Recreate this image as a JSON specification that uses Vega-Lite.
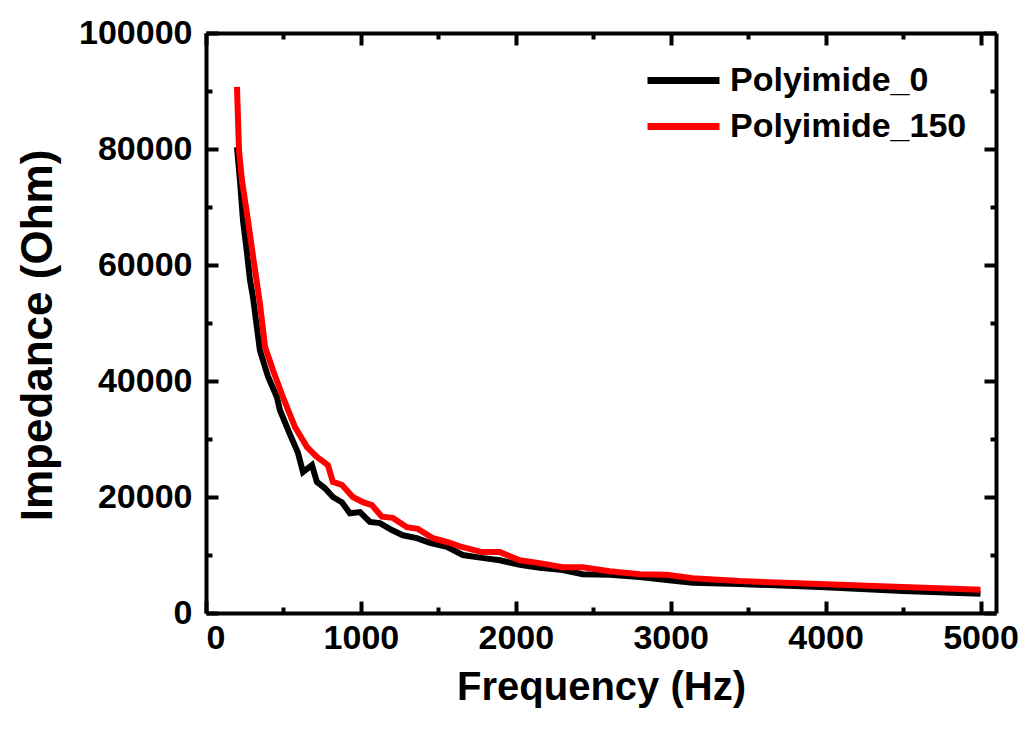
{
  "$schema": "https://vega.github.io/schema/vega-lite/v6.json",
  "width": 790,
  "height": 580,
  "autosize": "none",
  "padding": {"left": 206, "top": 33, "right": 26, "bottom": 116},
  "background": "white",
  "config": {
    "view": {"stroke": null},
    "font": "Liberation Sans",
    "axis": {
      "grid": false,
      "domainColor": "black",
      "domainWidth": 4,
      "tickColor": "black",
      "tickWidth": 4,
      "labelColor": "black",
      "titleColor": "black",
      "labelFont": "Liberation Sans",
      "labelFontWeight": "bold",
      "labelFontSize": 34,
      "titleFont": "Liberation Sans",
      "titleFontWeight": "bold",
      "titleFontSize": 40
    }
  },
  "data": {
    "values": [
      {"f": 200, "z": 80300, "s": "Polyimide_0"},
      {"f": 219, "z": 74600, "s": "Polyimide_0"},
      {"f": 239, "z": 67700, "s": "Polyimide_0"},
      {"f": 265, "z": 62000, "s": "Polyimide_0"},
      {"f": 284, "z": 57400, "s": "Polyimide_0"},
      {"f": 303, "z": 54500, "s": "Polyimide_0"},
      {"f": 348, "z": 45300, "s": "Polyimide_0"},
      {"f": 400, "z": 40800, "s": "Polyimide_0"},
      {"f": 458, "z": 37200, "s": "Polyimide_0"},
      {"f": 477, "z": 35000, "s": "Polyimide_0"},
      {"f": 542, "z": 30800, "s": "Polyimide_0"},
      {"f": 594, "z": 27600, "s": "Polyimide_0"},
      {"f": 626, "z": 24300, "s": "Polyimide_0"},
      {"f": 684, "z": 25500, "s": "Polyimide_0"},
      {"f": 716, "z": 22600, "s": "Polyimide_0"},
      {"f": 768, "z": 21500, "s": "Polyimide_0"},
      {"f": 819, "z": 20000, "s": "Polyimide_0"},
      {"f": 877, "z": 19100, "s": "Polyimide_0"},
      {"f": 929, "z": 17200, "s": "Polyimide_0"},
      {"f": 994, "z": 17400, "s": "Polyimide_0"},
      {"f": 1058, "z": 15700, "s": "Polyimide_0"},
      {"f": 1123, "z": 15500, "s": "Polyimide_0"},
      {"f": 1200, "z": 14300, "s": "Polyimide_0"},
      {"f": 1271, "z": 13400, "s": "Polyimide_0"},
      {"f": 1361, "z": 12900, "s": "Polyimide_0"},
      {"f": 1445, "z": 12100, "s": "Polyimide_0"},
      {"f": 1555, "z": 11400, "s": "Polyimide_0"},
      {"f": 1658, "z": 10000, "s": "Polyimide_0"},
      {"f": 1781, "z": 9500, "s": "Polyimide_0"},
      {"f": 1897, "z": 9100, "s": "Polyimide_0"},
      {"f": 2026, "z": 8300, "s": "Polyimide_0"},
      {"f": 2155, "z": 7800, "s": "Polyimide_0"},
      {"f": 2303, "z": 7400, "s": "Polyimide_0"},
      {"f": 2432, "z": 6700, "s": "Polyimide_0"},
      {"f": 2606, "z": 6600, "s": "Polyimide_0"},
      {"f": 2800, "z": 6200, "s": "Polyimide_0"},
      {"f": 2974, "z": 5700, "s": "Polyimide_0"},
      {"f": 3142, "z": 5200, "s": "Polyimide_0"},
      {"f": 3445, "z": 5000, "s": "Polyimide_0"},
      {"f": 3961, "z": 4500, "s": "Polyimide_0"},
      {"f": 4497, "z": 3800, "s": "Polyimide_0"},
      {"f": 5000, "z": 3300, "s": "Polyimide_0"},
      {"f": 200, "z": 90700, "s": "Polyimide_150"},
      {"f": 213, "z": 79800, "s": "Polyimide_150"},
      {"f": 232, "z": 74600, "s": "Polyimide_150"},
      {"f": 271, "z": 67700, "s": "Polyimide_150"},
      {"f": 310, "z": 60300, "s": "Polyimide_150"},
      {"f": 348, "z": 53400, "s": "Polyimide_150"},
      {"f": 381, "z": 45900, "s": "Polyimide_150"},
      {"f": 432, "z": 41900, "s": "Polyimide_150"},
      {"f": 497, "z": 37200, "s": "Polyimide_150"},
      {"f": 574, "z": 32100, "s": "Polyimide_150"},
      {"f": 652, "z": 28600, "s": "Polyimide_150"},
      {"f": 716, "z": 26900, "s": "Polyimide_150"},
      {"f": 768, "z": 25900, "s": "Polyimide_150"},
      {"f": 787, "z": 25500, "s": "Polyimide_150"},
      {"f": 819, "z": 22600, "s": "Polyimide_150"},
      {"f": 877, "z": 22100, "s": "Polyimide_150"},
      {"f": 948, "z": 20000, "s": "Polyimide_150"},
      {"f": 1013, "z": 19100, "s": "Polyimide_150"},
      {"f": 1071, "z": 18600, "s": "Polyimide_150"},
      {"f": 1135, "z": 16600, "s": "Polyimide_150"},
      {"f": 1206, "z": 16400, "s": "Polyimide_150"},
      {"f": 1297, "z": 14800, "s": "Polyimide_150"},
      {"f": 1368, "z": 14500, "s": "Polyimide_150"},
      {"f": 1465, "z": 12900, "s": "Polyimide_150"},
      {"f": 1561, "z": 12200, "s": "Polyimide_150"},
      {"f": 1639, "z": 11500, "s": "Polyimide_150"},
      {"f": 1781, "z": 10500, "s": "Polyimide_150"},
      {"f": 1897, "z": 10500, "s": "Polyimide_150"},
      {"f": 2026, "z": 9100, "s": "Polyimide_150"},
      {"f": 2155, "z": 8600, "s": "Polyimide_150"},
      {"f": 2303, "z": 7900, "s": "Polyimide_150"},
      {"f": 2432, "z": 7900, "s": "Polyimide_150"},
      {"f": 2606, "z": 7200, "s": "Polyimide_150"},
      {"f": 2800, "z": 6700, "s": "Polyimide_150"},
      {"f": 2974, "z": 6600, "s": "Polyimide_150"},
      {"f": 3142, "z": 6000, "s": "Polyimide_150"},
      {"f": 3445, "z": 5500, "s": "Polyimide_150"},
      {"f": 3961, "z": 5000, "s": "Polyimide_150"},
      {"f": 4497, "z": 4500, "s": "Polyimide_150"},
      {"f": 5000, "z": 4000, "s": "Polyimide_150"}
    ]
  },
  "resolve": {"axis": {"x": "independent", "y": "independent"}},
  "layer": [
    {
      "mark": {"type": "line", "strokeWidth": 6, "strokeJoin": "miter"},
      "encoding": {
        "x": {
          "field": "f", "type": "quantitative",
          "scale": {"domain": [0, 5100], "nice": false, "zero": false},
          "axis": {
            "orient": "bottom", "values": [0, 1000, 2000, 3000, 4000, 5000], "format": "d",
            "tickSize": -12, "labelPadding": 20, "title": "Frequency (Hz)", "titlePadding": 12
          }
        },
        "y": {
          "field": "z", "type": "quantitative",
          "scale": {"domain": [0, 100000], "nice": false},
          "axis": {
            "orient": "left", "values": [0, 20000, 40000, 60000, 80000, 100000], "format": "d",
            "tickSize": -12, "labelPadding": 26, "title": "Impedance (Ohm)", "titlePadding": 18,
            "titleFontSize": 44, "titleY": 302
          }
        },
        "color": {
          "field": "s", "type": "nominal",
          "scale": {"domain": ["Polyimide_0", "Polyimide_150"], "range": ["#000000", "#ff0000"]},
          "legend": {
            "orient": "none", "legendX": 456, "legendY": 26, "title": null,
            "symbolType": "M-2,0H2", "symbolStrokeWidth": 7, "symbolSize": 1296,
            "labelFont": "Liberation Sans", "labelFontWeight": "bold", "labelFontSize": 34,
            "labelColor": "black", "labelOffset": 25, "labelLimit": 0, "rowPadding": 7
          }
        }
      }
    },
    {
      "mark": {"type": "point", "opacity": 0},
      "encoding": {
        "x": {
          "field": "f", "type": "quantitative",
          "axis": {
            "orient": "bottom", "values": [500, 1500, 2500, 3500, 4500],
            "tickSize": -6, "labels": false, "domain": false, "title": null
          }
        },
        "y": {
          "field": "z", "type": "quantitative",
          "axis": {
            "orient": "left", "values": [10000, 30000, 50000, 70000, 90000],
            "tickSize": -6, "labels": false, "domain": false, "title": null
          }
        }
      }
    },
    {
      "mark": {"type": "point", "opacity": 0},
      "encoding": {
        "x": {
          "field": "f", "type": "quantitative",
          "axis": {
            "orient": "top", "values": [0, 1000, 2000, 3000, 4000, 5000],
            "tickSize": -12, "labels": false, "title": null
          }
        },
        "y": {
          "field": "z", "type": "quantitative",
          "axis": {
            "orient": "right", "values": [0, 20000, 40000, 60000, 80000, 100000],
            "tickSize": -12, "labels": false, "title": null
          }
        }
      }
    },
    {
      "mark": {"type": "point", "opacity": 0},
      "encoding": {
        "x": {
          "field": "f", "type": "quantitative",
          "axis": {
            "orient": "top", "values": [500, 1500, 2500, 3500, 4500],
            "tickSize": -6, "labels": false, "domain": false, "title": null
          }
        },
        "y": {
          "field": "z", "type": "quantitative",
          "axis": {
            "orient": "right", "values": [10000, 30000, 50000, 70000, 90000],
            "tickSize": -6, "labels": false, "domain": false, "title": null
          }
        }
      }
    }
  ]
}
